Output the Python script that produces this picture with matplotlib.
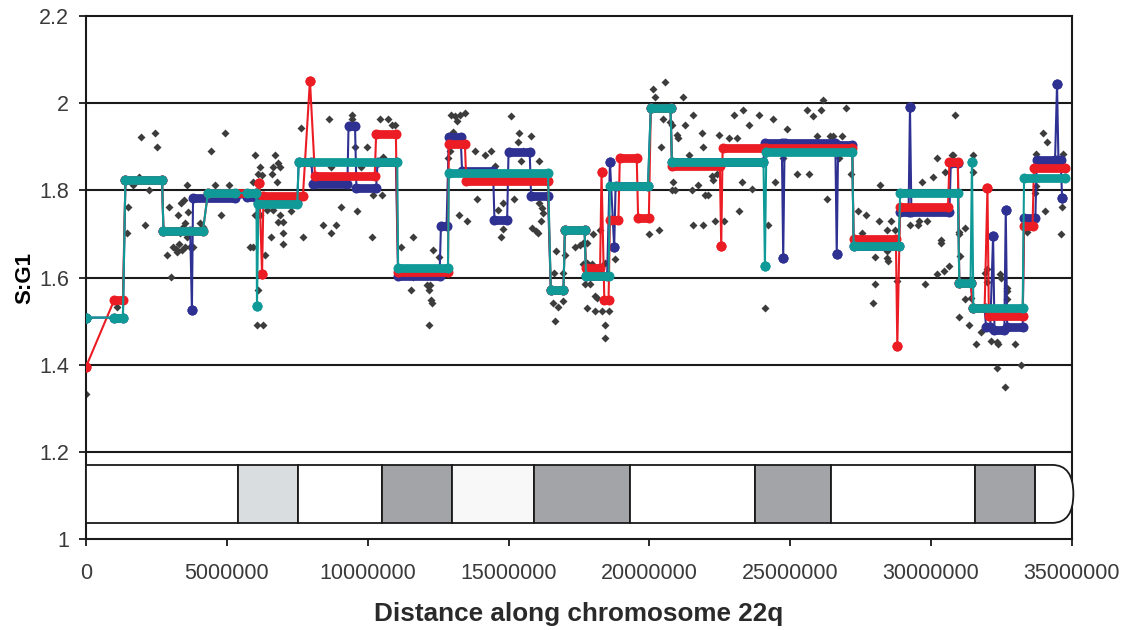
import numpy as np
import matplotlib
matplotlib.use('Agg')
import matplotlib.pyplot as plt
from matplotlib.patches import Rectangle, PathPatch
from matplotlib.path import Path
from matplotlib.ticker import FuncFormatter

plt.rcParams['font.family'] = ['Liberation Sans', 'DejaVu Sans']

# raw probe ratios (position in Mb, S:G1)
raw_pos = [0.0, 1.09, 1.44, 1.50, 1.68, 1.89, 1.95, 2.10, 2.24, 2.45, 2.53, 2.89, 2.96, 3.01,
           3.10, 3.18, 3.22, 3.28, 3.30, 3.34, 3.36, 3.40, 3.45, 3.48, 3.50, 3.52, 3.57, 3.57,
           3.62, 3.70, 3.81, 4.05, 4.17, 4.44, 4.58, 4.81, 4.93, 5.08, 5.82, 5.92, 5.94, 6.00,
           6.00, 6.06, 6.12, 6.12, 6.18, 6.18, 6.24, 6.27, 6.35, 6.42, 6.57, 6.60, 6.65, 6.65,
           6.71, 6.77, 6.83, 6.83, 6.89, 6.89, 6.98, 7.00, 7.00, 7.27, 7.62, 7.71, 8.41, 8.64,
           8.70, 8.70, 8.88, 9.06, 9.43, 9.43, 9.55, 9.63, 9.76, 9.96, 10.14, 10.20, 10.43, 10.50,
           10.56, 10.73, 10.85, 10.97, 11.20, 11.54, 11.62, 11.62, 12.09, 12.18, 12.19, 12.22,
           12.25, 12.30, 12.31, 12.53, 12.86, 12.92, 12.94, 13.04, 13.10, 13.16, 13.24, 13.28,
           13.45, 13.51, 13.81, 13.87, 14.17, 14.38, 14.52, 14.64, 14.73, 14.82, 14.82, 15.09,
           15.18, 15.35, 15.37, 15.45, 15.53, 15.80, 15.82, 15.96, 16.06, 16.09, 16.09, 16.15,
           16.17, 16.23, 16.57, 16.60, 16.65, 16.70, 16.75, 16.92, 16.95, 17.00, 17.36, 17.54,
           17.66, 17.66, 17.72, 17.77, 17.77, 17.77, 17.89, 17.95, 18.01, 18.07, 18.07, 18.13,
           18.25, 18.31, 18.43, 18.43, 18.43, 18.58, 18.77, 19.98, 20.14, 20.20, 20.34, 20.40,
           20.47, 20.55, 20.73, 20.79, 20.79, 20.85, 20.90, 20.97, 21.03, 21.21, 21.27, 21.42,
           21.50, 21.54, 21.56, 21.71, 21.86, 21.89, 21.90, 21.97, 22.09, 22.21, 22.27, 22.33,
           22.39, 22.47, 22.66, 22.84, 23.00, 23.10, 23.19, 23.27, 23.34, 23.55, 23.63, 23.90,
           24.11, 24.20, 24.40, 24.46, 24.75, 24.87, 25.23, 25.60, 25.68, 25.80, 25.96, 26.08,
           26.17, 26.30, 26.42, 26.53, 26.74, 26.83, 26.97, 27.15, 27.39, 27.56, 27.68, 27.95,
           28.01, 28.01, 28.15, 28.19, 28.42, 28.42, 28.42, 28.48, 28.56, 28.73, 28.78, 29.25,
           29.53, 29.58, 29.67, 29.78, 29.85, 30.08, 30.20, 30.20, 30.35, 30.35, 30.45, 30.49,
           30.65, 30.73, 30.79, 30.85, 30.99, 30.99, 31.00, 31.03, 31.20, 31.20, 31.35, 31.42,
           31.50, 31.50, 31.59, 31.77, 31.91, 31.97, 32.00, 32.13, 32.34, 32.35, 32.39, 32.45,
           32.47, 32.63, 32.68, 32.68, 32.69, 32.98, 33.19, 33.39, 33.69, 33.74, 33.74, 33.98,
           34.04, 34.10, 34.60, 34.63, 34.67]
raw_ratio = [1.333, 1.532, 1.701, 1.762, 1.812, 1.831, 1.923, 1.720, 1.801, 1.931, 1.900, 1.652, 1.762, 1.602,
             1.671, 1.666, 1.659, 1.743, 1.676, 1.701, 1.770, 1.663, 1.717, 1.778, 1.671, 1.724, 1.694, 1.812,
             1.751, 1.671, 1.671, 1.724, 1.717, 1.890, 1.812, 1.743, 1.931, 1.812, 1.671, 1.671, 1.820, 1.881,
             1.743, 1.491, 1.837, 1.571, 1.854, 1.743, 1.835, 1.491, 1.652, 1.755, 1.694, 1.837, 1.854, 1.755,
             1.881, 1.820, 1.862, 1.728, 1.854, 1.743, 1.678, 1.728, 1.701, 1.753, 1.942, 1.693, 1.720, 1.964,
             1.701, 1.854, 1.720, 1.762, 1.972, 1.964, 1.900, 1.753, 1.854, 1.900, 1.693, 1.789, 1.964, 1.789,
             1.877, 1.964, 1.950, 1.949, 1.671, 1.572, 1.694, 1.602, 1.583, 1.572, 1.491, 1.583,
             1.548, 1.541, 1.662, 1.646, 1.875, 1.890, 1.974, 1.933, 1.970, 1.960, 1.743, 1.972,
             1.977, 1.729, 1.890, 1.779, 1.881, 1.890, 1.856, 1.755, 1.693, 1.770, 1.711, 1.970,
             1.779, 1.912, 1.931, 1.868, 1.890, 1.925, 1.713, 1.706, 1.701, 1.868, 1.770, 1.729,
             1.759, 1.747, 1.541, 1.610, 1.500, 1.661, 1.533, 1.545, 1.610, 1.652, 1.670, 1.675,
             1.679, 1.631, 1.584, 1.679, 1.634, 1.531, 1.584, 1.632, 1.700, 1.524, 1.557, 1.552,
             1.710, 1.524, 1.491, 1.461, 1.633, 1.524, 1.642, 1.700, 2.032, 2.015, 1.710, 1.900,
             1.964, 2.049, 1.957, 1.950, 1.801, 1.820, 1.801, 1.927, 1.920, 2.015, 1.950, 1.881,
             1.801, 1.720, 1.972, 1.812, 1.931, 1.900, 1.720, 1.790, 1.790, 1.832, 1.824, 1.730,
             1.837, 1.927, 1.730, 1.920, 1.974, 1.920, 1.753, 1.820, 1.984, 1.950, 1.804, 1.972,
             1.531, 1.720, 1.964, 1.818, 1.874, 1.940, 1.837, 1.984, 1.837, 1.970, 1.925, 1.984,
             2.008, 1.779, 1.925, 1.925, 1.874, 1.925, 1.990, 1.837, 1.753, 1.701, 1.743, 1.542,
             1.646, 1.586, 1.730, 1.812, 1.710, 1.644, 1.660, 1.637, 1.730, 1.710, 1.593, 1.720,
             1.720, 1.730, 1.820, 1.586, 1.730, 1.830, 1.874, 1.607, 1.686, 1.679, 1.615, 1.843,
             1.626, 1.881, 1.881, 1.972, 1.700, 1.510, 1.705, 1.650, 1.713, 1.550, 1.491, 1.552,
             1.881, 1.843, 1.447, 1.475, 1.610, 1.590, 1.620, 1.454, 1.392, 1.453, 1.447, 1.607,
             1.600, 1.349, 1.570, 1.550, 1.577, 1.447, 1.399, 1.705, 1.793, 1.810, 1.883, 1.931,
             1.753, 1.912, 1.700, 1.762, 1.883]

# segmented values: (start Mb, end Mb, level)
blue_segs = [(0.0, 0.0, 1.508), (1.0, 1.31, 1.508), (1.40, 2.70, 1.824), (2.75, 3.70, 1.707),
             (3.76, 3.76, 1.525), (3.80, 5.30, 1.782), (5.72, 6.05, 1.785), (6.12, 7.50, 1.772),
             (7.55, 8.00, 1.865), (8.06, 9.28, 1.815), (9.32, 9.55, 1.948), (9.60, 10.30, 1.805),
             (10.35, 11.00, 1.865), (11.08, 12.55, 1.603), (12.60, 12.80, 1.718), (12.88, 13.30, 1.923),
             (13.35, 14.45, 1.845), (14.50, 14.95, 1.732), (15.00, 15.75, 1.889), (15.80, 16.40, 1.787),
             (16.50, 16.95, 1.571), (17.00, 17.70, 1.709), (17.75, 18.50, 1.603), (18.60, 18.60, 1.865),
             (18.75, 18.75, 1.669), (18.80, 19.95, 1.810), (20.05, 20.75, 1.989), (20.80, 24.05, 1.865),
             (24.10, 24.70, 1.909), (24.75, 24.75, 1.645), (24.80, 26.60, 1.909), (26.65, 26.65, 1.655),
             (26.70, 27.20, 1.905), (27.25, 28.85, 1.672), (28.90, 29.20, 1.751), (29.25, 29.25, 1.992),
             (29.30, 30.65, 1.751), (30.70, 30.95, 1.862), (31.00, 31.40, 1.587), (31.50, 31.90, 1.530),
             (31.95, 32.10, 1.487), (32.20, 32.20, 1.696), (32.25, 32.60, 1.480), (32.65, 32.65, 1.755),
             (32.70, 33.25, 1.487), (33.30, 33.70, 1.736), (33.75, 34.40, 1.870), (34.47, 34.47, 2.043),
             (34.52, 34.60, 1.870), (34.65, 34.65, 1.782)]
red_segs = [(0.0, 0.0, 1.395), (1.0, 1.31, 1.548), (1.40, 2.70, 1.824), (2.75, 4.15, 1.707),
            (4.33, 6.05, 1.794), (6.15, 6.15, 1.817), (6.25, 6.25, 1.608), (6.30, 7.70, 1.787),
            (7.95, 7.95, 2.052), (8.13, 10.25, 1.833), (10.30, 11.00, 1.929), (11.08, 12.85, 1.612),
            (12.88, 13.45, 1.906), (13.50, 16.40, 1.822), (16.50, 16.95, 1.571), (17.00, 17.70, 1.709),
            (17.75, 18.25, 1.622), (18.30, 18.30, 1.843), (18.40, 18.55, 1.548), (18.60, 18.90, 1.732),
            (18.95, 19.55, 1.875), (19.60, 19.98, 1.736), (20.05, 20.75, 1.989), (20.80, 22.50, 1.856),
            (22.55, 22.55, 1.672), (22.60, 24.05, 1.897), (24.15, 27.20, 1.897), (27.25, 28.75, 1.688),
            (28.80, 28.80, 1.443), (28.90, 30.60, 1.762), (30.65, 30.95, 1.865), (31.00, 31.40, 1.587),
            (31.50, 31.90, 1.530), (32.00, 32.00, 1.806), (32.05, 33.25, 1.512), (33.30, 33.60, 1.718),
            (33.65, 34.75, 1.851)]
teal_segs = [(0.0, 0.0, 1.508), (1.0, 1.31, 1.508), (1.40, 2.70, 1.824), (2.75, 4.15, 1.707),
             (4.33, 5.30, 1.794), (5.72, 6.05, 1.794), (6.07, 6.07, 1.535), (6.12, 7.50, 1.769),
             (7.55, 11.05, 1.865), (11.08, 12.85, 1.622), (12.88, 16.40, 1.840), (16.50, 16.95, 1.571),
             (17.00, 17.70, 1.709), (17.75, 18.55, 1.603), (18.60, 19.95, 1.810), (20.05, 20.75, 1.989),
             (20.80, 24.05, 1.865), (24.10, 24.10, 1.626), (24.15, 27.20, 1.889), (27.25, 28.85, 1.672),
             (28.90, 30.95, 1.793), (31.00, 31.40, 1.587), (31.45, 31.45, 1.865), (31.50, 33.25, 1.530),
             (33.30, 34.75, 1.828)]

# chromosome 22q ideogram bands (Mb)
band_edges = [0.0, 5.40, 7.53, 10.51, 12.99, 15.90, 19.31, 23.75, 26.45, 31.56, 33.69]
band_colors = ['white', '#dadddf', 'white', '#a2a4a7', '#f8f8f8', '#a2a4a7', 'white', '#a2a4a7',
               'white', '#a2a4a7']
chrom_end = 35.05

fig = plt.figure(figsize=(11.24, 6.3), dpi=100)
ax = fig.add_axes([0.0765, 0.1444, 0.8772, 0.8302])

for y in [1.2, 1.4, 1.6, 1.8, 2.0]:
    ax.axhline(y, color='#1a1a1a', lw=1.5, zorder=1)

MB = 1e6
ax.plot(np.array(raw_pos) * MB, raw_ratio, 'D', color='#3c3c3c', ms=3.6, mec='none', zorder=2)


def draw_series(segs, color, z):
    xs, ys = [], []
    for s, e, v in segs:
        xs += [s, e]
        ys += [v, v]
    ax.plot(np.array(xs) * MB, ys, color=color, lw=1.5, zorder=z)
    for s, e, v in segs:
        if e > s:
            ax.plot([s * MB, e * MB], [v, v], color=color, lw=6.3, solid_capstyle='round', zorder=z)
        ax.plot([s * MB, e * MB], [v, v], 'o', color=color, ms=7.2, mec='none', zorder=z)


draw_series(blue_segs, '#2e3192', 3)
draw_series(red_segs, '#ec1c24', 4)
draw_series(teal_segs, '#0f9a98', 5)

# ideogram
y0, y1 = 1.037, 1.170
for i, c in enumerate(band_colors):
    ax.add_patch(Rectangle((band_edges[i] * MB, y0), (band_edges[i + 1] - band_edges[i]) * MB,
                           y1 - y0, facecolor=c, edgecolor='#1a1a1a', lw=1.3, zorder=6))
x_a = band_edges[-1] * MB
x_b = (chrom_end - 0.75) * MB
x_c = chrom_end * MB
ym = (y0 + y1) / 2
verts = [(x_a, y0), (x_b, y0), (x_c, y0), (x_c, ym), (x_c, y1), (x_b, y1), (x_a, y1), (x_a, y0)]
codes = [Path.MOVETO, Path.LINETO, Path.CURVE3, Path.CURVE3, Path.CURVE3, Path.CURVE3,
         Path.LINETO, Path.CLOSEPOLY]
ax.add_patch(PathPatch(Path(verts, codes), facecolor='white', edgecolor='#1a1a1a', lw=1.3,
                       zorder=6, clip_on=False))

ax.set_xlim(0, 35e6)
ax.set_ylim(1.0, 2.2)
ax.set_xticks(np.arange(0, 35e6 + 1, 5e6))
ax.set_yticks([1.0, 1.2, 1.4, 1.6, 1.8, 2.0, 2.2])
ax.xaxis.set_major_formatter(FuncFormatter(lambda v, p: '%d' % v))
ax.yaxis.set_major_formatter(FuncFormatter(lambda v, p: '%g' % v))
ax.tick_params(labelsize=15.5, colors='#1a1a1a', labelcolor='#3a3a3a', length=5, width=1.3)
ax.tick_params(axis='x', pad=12)
ax.tick_params(axis='y', pad=7)
for sp in ax.spines.values():
    sp.set_linewidth(1.5)
    sp.set_color('#1a1a1a')

ax.set_ylabel('S:G1', fontsize=16, fontweight='bold', labelpad=3)
ax.set_xlabel('Distance along chromosome 22q', fontsize=18.8, fontweight='bold', labelpad=13,
              color='#2a2a2a')

fig.savefig('out.png', dpi=100)
